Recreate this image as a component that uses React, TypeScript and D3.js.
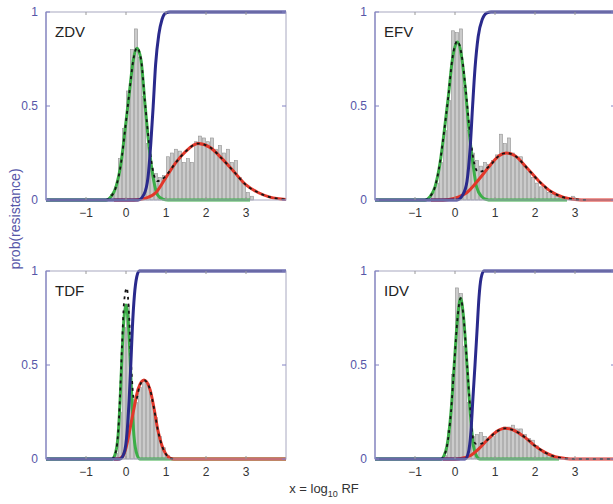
import React from 'react';
import * as d3 from 'd3';

type Pt = [number, number];

// shared axes
const X_DOMAIN = [-2, 4];
const X_TICKS = [-1, 0, 1, 2, 3];
const Y_TICKS = [0, 0.5, 1];
const Y_TICK_LABELS = ['0', '0.5', '1'];
const BIN_WIDTH = 0.1;

const DRUGS = ['ZDV', 'EFV', 'TDF', 'IDV'];

// histogram heights (first bin centre + heights, bins 0.1 wide)
const ZDV_HIST_START = -0.35;
const ZDV_HIST = [0.03, 0.07, 0.22, 0.38, 0.58, 0.8, 0.91, 0.76, 0.55, 0.3, 0.17, 0.14, 0.12, 0.13, 0.23, 0.25, 0.27, 0.26, 0.2, 0.22, 0.2, 0.31, 0.34, 0.33, 0.31, 0.33, 0.27, 0.29, 0.25, 0.27, 0.2, 0.21, 0.12, 0.09, 0.04, 0.02];
const EFV_HIST_START = -0.55;
const EFV_HIST = [0.04, 0.09, 0.2, 0.37, 0.53, 0.9, 0.89, 0.91, 0.6, 0.37, 0.25, 0.21, 0.18, 0.2, 0.19, 0.21, 0.24, 0.35, 0.3, 0.33, 0.25, 0.23, 0.23, 0.18, 0.15, 0.12, 0.09, 0.07, 0.06, 0.04, 0.03, 0.02, 0.015, 0.01, 0, 0.02];
const TDF_HIST_START = -0.25;
const TDF_HIST = [0.03, 0.25, 0.7, 0.82, 0.32, 0.3, 0.38, 0.42, 0.4, 0.31, 0.22, 0.12, 0.06, 0.02];
const IDV_HIST_START = -0.25;
const IDV_HIST = [0.02, 0.15, 0.45, 0.91, 0.88, 0.6, 0.3, 0.12, 0.13, 0.14, 0.12, 0.11, 0.12, 0.15, 0.16, 0.17, 0.17, 0.18, 0.16, 0.16, 0.13, 0.11, 0.1, 0.07, 0.05, 0.03, 0.02, 0.01];

// sensitive component (green)
const ZDV_GREEN: Pt[] = [[-2, 0], [-0.5, 0], [-0.375, 0.018], [-0.25, 0.07], [-0.125, 0.195], [-0.025, 0.37], [0.083, 0.57], [0.183, 0.745], [0.275, 0.807], [0.375, 0.745], [0.475, 0.51], [0.583, 0.27], [0.69, 0.106], [0.79, 0.027], [0.92, 0.005], [1.05, 0], [3.1, 0]];
const EFV_GREEN: Pt[] = [[-2, 0], [-0.75, 0], [-0.625, 0.018], [-0.5, 0.07], [-0.375, 0.195], [-0.275, 0.355], [-0.167, 0.55], [-0.067, 0.745], [0.06, 0.84], [0.167, 0.76], [0.267, 0.57], [0.358, 0.355], [0.458, 0.177], [0.54, 0.07], [0.667, 0.018], [0.79, 0.003], [0.9, 0], [2.8, 0]];
const TDF_GREEN: Pt[] = [[-2, 0], [-0.35, 0], [-0.28, 0.02], [-0.2, 0.12], [-0.15, 0.3], [-0.1, 0.55], [-0.05, 0.75], [0.0, 0.82], [0.05, 0.75], [0.1, 0.55], [0.15, 0.3], [0.2, 0.12], [0.28, 0.02], [0.35, 0], [4, 0]];
const IDV_GREEN: Pt[] = [[-2, 0], [-0.35, 0], [-0.28, 0.015], [-0.2, 0.07], [-0.1, 0.25], [-0.02, 0.5], [0.06, 0.74], [0.14, 0.855], [0.22, 0.74], [0.3, 0.5], [0.38, 0.25], [0.46, 0.07], [0.54, 0.015], [0.62, 0], [2.6, 0]];

// resistant component (red)
const ZDV_RED: Pt[] = [[-0.3, 0], [0.2, 0], [0.5, 0.01], [0.75, 0.04], [1.0, 0.12], [1.25, 0.2], [1.5, 0.26], [1.8, 0.3], [2.1, 0.28], [2.4, 0.22], [2.7, 0.15], [3.0, 0.08], [3.3, 0.04], [3.6, 0.015], [4, 0.003]];
const EFV_RED: Pt[] = [[-0.6, 0], [-0.3, 0], [0, 0.01], [0.3, 0.04], [0.6, 0.11], [0.9, 0.19], [1.1, 0.235], [1.28, 0.25], [1.5, 0.235], [1.8, 0.17], [2.1, 0.1], [2.4, 0.045], [2.7, 0.015], [3.0, 0.003], [3.3, 0], [4, 0]];
const TDF_RED: Pt[] = [[-0.3, 0], [-0.2, 0], [-0.1, 0.01], [0, 0.06], [0.1, 0.16], [0.2, 0.27], [0.3, 0.37], [0.45, 0.42], [0.6, 0.37], [0.7, 0.27], [0.8, 0.15], [0.9, 0.07], [1.0, 0.025], [1.1, 0.005], [1.2, 0], [4, 0]];
const IDV_RED: Pt[] = [[-0.3, 0], [0, 0], [0.2, 0.005], [0.4, 0.02], [0.6, 0.055], [0.8, 0.1], [1.0, 0.14], [1.25, 0.163], [1.5, 0.15], [1.75, 0.115], [2.0, 0.07], [2.25, 0.035], [2.5, 0.012], [2.75, 0.003], [3, 0], [4, 0]];

// mixture total (black dashed)
const ZDV_TOTAL: Pt[] = [[-0.5, 0], [-0.375, 0.018], [-0.25, 0.07], [-0.125, 0.195], [-0.025, 0.37], [0.083, 0.57], [0.183, 0.745], [0.275, 0.81], [0.375, 0.75], [0.475, 0.52], [0.583, 0.29], [0.69, 0.14], [0.78, 0.1], [0.9, 0.11], [1.0, 0.13], [1.25, 0.2], [1.5, 0.26], [1.8, 0.3], [2.1, 0.28], [2.4, 0.22], [2.7, 0.15], [3.0, 0.08], [3.3, 0.04], [3.6, 0.015], [4, 0.003]];
const EFV_TOTAL: Pt[] = [[-0.75, 0], [-0.625, 0.018], [-0.5, 0.07], [-0.375, 0.2], [-0.275, 0.36], [-0.167, 0.55], [-0.067, 0.75], [0.06, 0.845], [0.167, 0.77], [0.267, 0.59], [0.358, 0.39], [0.458, 0.22], [0.58, 0.15], [0.7, 0.155], [0.9, 0.19], [1.1, 0.235], [1.28, 0.25], [1.5, 0.235], [1.8, 0.17], [2.1, 0.1], [2.4, 0.045], [2.7, 0.015], [3.0, 0.003], [3.3, 0]];
const TDF_TOTAL: Pt[] = [[-0.35, 0], [-0.28, 0.02], [-0.2, 0.13], [-0.15, 0.33], [-0.1, 0.6], [-0.05, 0.83], [0.02, 0.91], [0.08, 0.75], [0.13, 0.5], [0.2, 0.32], [0.26, 0.32], [0.33, 0.38], [0.45, 0.42], [0.6, 0.37], [0.7, 0.27], [0.8, 0.15], [0.9, 0.07], [1.0, 0.025], [1.1, 0.005], [1.2, 0]];
const IDV_TOTAL: Pt[] = [[-0.35, 0], [-0.28, 0.015], [-0.2, 0.07], [-0.1, 0.25], [-0.02, 0.5], [0.06, 0.74], [0.14, 0.855], [0.22, 0.74], [0.3, 0.51], [0.38, 0.27], [0.46, 0.1], [0.53, 0.08], [0.62, 0.08], [0.8, 0.1], [1.0, 0.14], [1.25, 0.163], [1.5, 0.15], [1.75, 0.115], [2.0, 0.07], [2.25, 0.035], [2.5, 0.012], [2.75, 0.003], [3, 0], [4, 0]];

// prob(resistance) curve (blue)
const ZDV_PROB: Pt[] = [[-2, 0], [0.3, 0], [0.45, 0.03], [0.55, 0.12], [0.62, 0.3], [0.68, 0.5], [0.74, 0.72], [0.82, 0.88], [0.9, 0.96], [1.0, 0.995], [1.1, 1], [4, 1]];
const EFV_PROB: Pt[] = [[-2, 0], [0.05, 0], [0.2, 0.03], [0.3, 0.1], [0.38, 0.28], [0.44, 0.5], [0.5, 0.7], [0.58, 0.87], [0.68, 0.96], [0.8, 0.995], [0.9, 1], [4, 1]];
const TDF_PROB: Pt[] = [[-2, 0], [-0.15, 0], [-0.05, 0.03], [0.03, 0.15], [0.08, 0.32], [0.12, 0.5], [0.16, 0.7], [0.21, 0.87], [0.27, 0.97], [0.33, 1], [4, 1]];
const IDV_PROB: Pt[] = [[-2, 0], [0.25, 0], [0.33, 0.03], [0.4, 0.15], [0.45, 0.33], [0.5, 0.5], [0.55, 0.68], [0.6, 0.86], [0.65, 0.96], [0.72, 1], [4, 1]];

const W = 240;
const H = 188;
const FONT = '"Liberation Sans", Arial, sans-serif';
const AXIS_BLUE = '#8282c4';
const LABEL_BLUE = '#5656a8';

const panels = [
  { name: DRUGS[0], left: 46, top: 12, histStart: ZDV_HIST_START, hist: ZDV_HIST, green: ZDV_GREEN, red: ZDV_RED, total: ZDV_TOTAL, prob: ZDV_PROB },
  { name: DRUGS[1], left: 375, top: 12, histStart: EFV_HIST_START, hist: EFV_HIST, green: EFV_GREEN, red: EFV_RED, total: EFV_TOTAL, prob: EFV_PROB },
  { name: DRUGS[2], left: 46, top: 271, histStart: TDF_HIST_START, hist: TDF_HIST, green: TDF_GREEN, red: TDF_RED, total: TDF_TOTAL, prob: TDF_PROB },
  { name: DRUGS[3], left: 375, top: 271, histStart: IDV_HIST_START, hist: IDV_HIST, green: IDV_GREEN, red: IDV_RED, total: IDV_TOTAL, prob: IDV_PROB },
];

function Panel({ p }: { p: typeof panels[number] }) {
  const x = d3.scaleLinear().domain(X_DOMAIN).range([0, W]);
  const y = d3.scaleLinear().domain([0, 1]).range([H, 0]);
  const line = d3.line<Pt>()
    .x(d => x(d[0]))
    .y(d => y(d[1]))
    .curve(d3.curveMonotoneX);
  const barW = x(BIN_WIDTH * 0.8) - x(0);

  return (
    <g transform={`translate(${p.left},${p.top})`}>
      {p.hist.map((v, i) => {
        const c = p.histStart + i * BIN_WIDTH;
        return (
          <rect key={i} x={x(c) - barW / 2} y={y(v)} width={barW} height={H - y(v)}
            fill="#cbcbcb" stroke="#949494" strokeWidth={0.6} />
        );
      })}
      <path d={line(p.green) || ''} fill="none" stroke="#3cae48" strokeWidth={3} />
      <path d={line(p.red) || ''} fill="none" stroke="#e2372a" strokeWidth={3} />
      <path d={line(p.total) || ''} fill="none" stroke="#151515" strokeWidth={1.8} strokeDasharray="3,4" />
      <path d={line(p.prob) || ''} fill="none" stroke="#2a2a8c" strokeWidth={3} />

      {/* frame */}
      <rect x={0} y={0} width={W} height={H} fill="none" stroke="#a8a8c0" strokeWidth={1} />
      <line x1={0} x2={0} y1={0} y2={H} stroke={AXIS_BLUE} strokeWidth={1.2} />

      {X_TICKS.map(t => (
        <g key={t}>
          <line x1={x(t)} x2={x(t)} y1={H} y2={H - 3} stroke="#999" />
          <line x1={x(t)} x2={x(t)} y1={0} y2={3} stroke="#999" />
          <text x={x(t)} y={H + 17} textAnchor="middle" fontSize={12} fill="#333" fontFamily={FONT}>
            {t < 0 ? `\u2212${Math.abs(t)}` : t}
          </text>
        </g>
      ))}
      {Y_TICKS.map((t, i) => (
        <g key={t}>
          <line x1={0} x2={4} y1={y(t)} y2={y(t)} stroke={AXIS_BLUE} />
          <line x1={W} x2={W - 4} y1={y(t)} y2={y(t)} stroke={AXIS_BLUE} />
          <text x={-8} y={y(t)} dy="0.35em" textAnchor="end" fontSize={12} fill={LABEL_BLUE} fontFamily={FONT}>
            {Y_TICK_LABELS[i]}
          </text>
        </g>
      ))}
      <text x={9} y={25} fontSize={15} fill="#222" fontFamily={FONT}>{p.name}</text>
    </g>
  );
}

export default function App() {
  return (
    <svg width={613} height={504} style={{ position: 'absolute', left: 0, top: 0, background: '#fff' }}>
      {panels.map(p => <Panel key={p.name} p={p} />)}
      <text transform="translate(20,219) rotate(-90)" textAnchor="middle" fontSize={14}
        fill={LABEL_BLUE} fontFamily={FONT}>prob(resistance)</text>
      <text x={324} y={493} textAnchor="middle" fontSize={13} fill="#333" fontFamily={FONT}>
        x = log<tspan fontSize={9} dy={4}>10</tspan><tspan dy={-4}> RF</tspan>
      </text>
    </svg>
  );
}
